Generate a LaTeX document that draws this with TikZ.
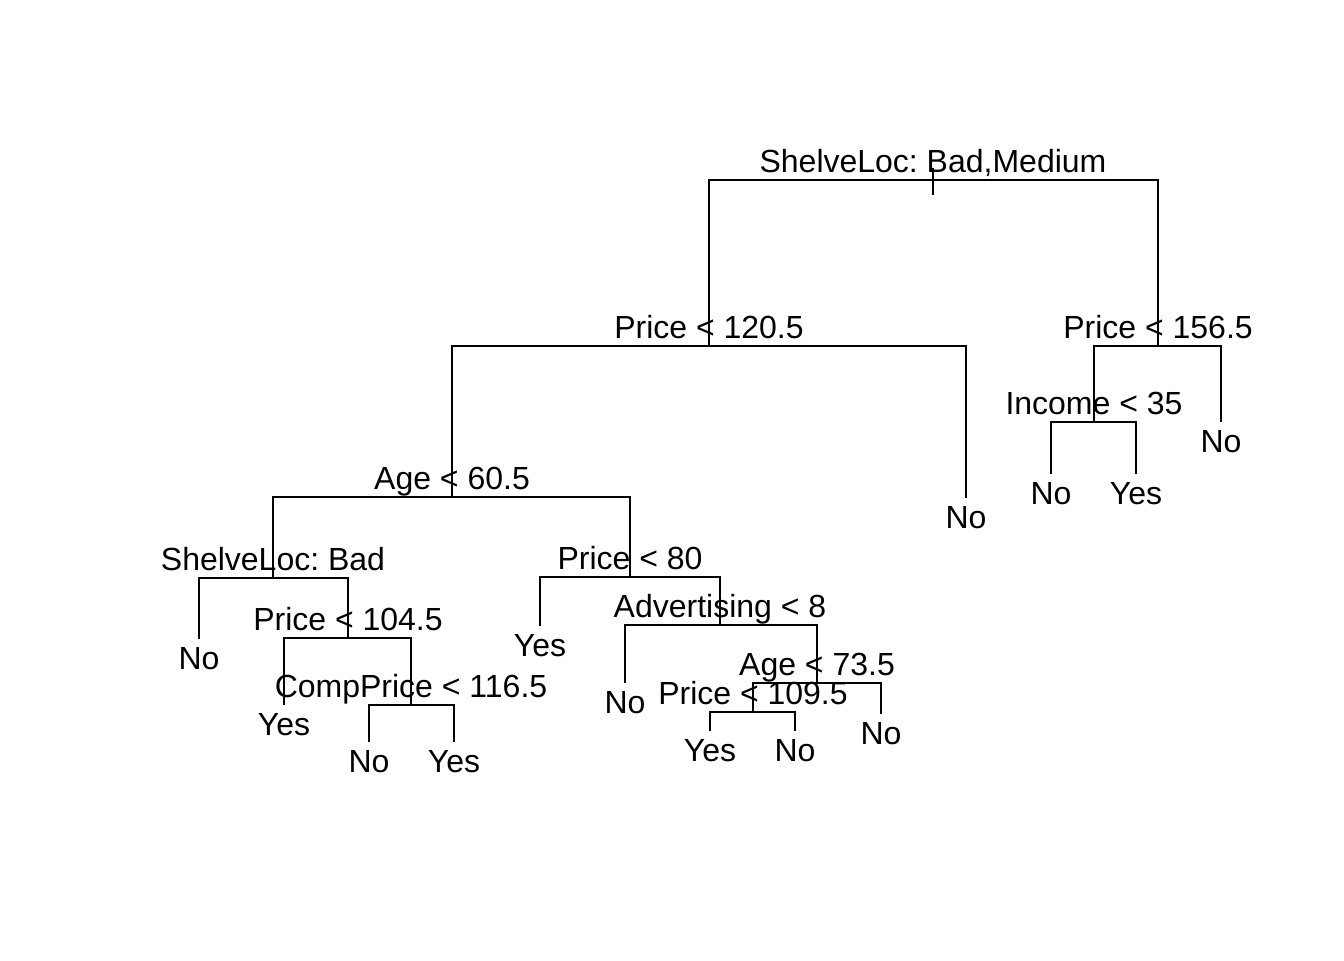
\documentclass[tikz,border=0pt]{standalone}
\usepackage{fontspec}
\setmainfont{Liberation Sans}
\frenchspacing

\tikzset{splitlab/.style = {anchor = base,
                            inner sep = 0pt,
                            yshift = 2.8pt,
                            font = \fontsize{12}{14}\selectfont},
         leaflab/.style = {anchor = base,
                           inner sep = 0pt,
                           yshift = -11.4pt,
                           font = \fontsize{12}{14}\selectfont},
         branch/.style = {color = black,
                          line width = 0.75pt}}

\begin{document}
\begin{tikzpicture}[x = 0.375pt, y = -0.375pt]
		\useasboundingbox (0,0) rectangle (1344,960);
		% split points
		\coordinate (root) at (933,180);
		\coordinate (p1205) at (709,346);
		\coordinate (p1565) at (1158,346);
		\coordinate (inc35) at (1094,422);
		\coordinate (age605) at (452,497);
		\coordinate (shbad) at (273,578);
		\coordinate (p1045) at (348,638);
		\coordinate (cp1165) at (411,705);
		\coordinate (p80) at (630,577);
		\coordinate (adv8) at (720,625);
		\coordinate (age735) at (817,683);
		\coordinate (p1095) at (753,712);
		% leaves
		\coordinate (l1) at (1051,474);
		\coordinate (l2) at (1136,474);
		\coordinate (l3) at (1221,422);
		\coordinate (l4) at (966,498);
		\coordinate (l5) at (199,639);
		\coordinate (l6) at (284,705);
		\coordinate (l7) at (369,742);
		\coordinate (l8) at (454,742);
		\coordinate (l9) at (540,626);
		\coordinate (l10) at (625,683);
		\coordinate (l11) at (710,731);
		\coordinate (l12) at (795,731);
		\coordinate (l13) at (881,714);
		\coordinate (ticktop) at (933,168);
		\coordinate (tickbot) at (933,195);
		% branches
		\draw[branch] (ticktop) -- (tickbot);
		\draw[branch] (p1205) |- (root) -| (p1565);
		\draw[branch] (age605) |- (p1205) -| (l4);
		\draw[branch] (inc35) |- (p1565) -| (l3);
		\draw[branch] (l1) |- (inc35) -| (l2);
		\draw[branch] (shbad) |- (age605) -| (p80);
		\draw[branch] (l5) |- (shbad) -| (p1045);
		\draw[branch] (l6) |- (p1045) -| (cp1165);
		\draw[branch] (l7) |- (cp1165) -| (l8);
		\draw[branch] (l9) |- (p80) -| (adv8);
		\draw[branch] (l10) |- (adv8) -| (age735);
		\draw[branch] (p1095) |- (age735) -| (l13);
		\draw[branch] (l11) |- (p1095) -| (l12);
		% split labels
		\node[splitlab] (troot) at (root) {ShelveLoc: Bad,Medium};
		\node[splitlab] (tp1205) at (p1205) {Price < 120.5};
		\node[splitlab] (tp1565) at (p1565) {Price < 156.5};
		\node[splitlab] (tinc35) at (inc35) {Income < 35};
		\node[splitlab] (tage605) at (age605) {Age < 60.5};
		\node[splitlab] (tshbad) at (shbad) {ShelveLoc: Bad};
		\node[splitlab] (tp1045) at (p1045) {Price < 104.5};
		\node[splitlab] (tcp1165) at (cp1165) {CompPrice < 116.5};
		\node[splitlab] (tp80) at (p80) {Price < 80};
		\node[splitlab] (tadv8) at (adv8) {Advertising < 8};
		\node[splitlab] (tage735) at (age735) {Age < 73.5};
		\node[splitlab] (tp1095) at (p1095) {Price < 109.5};
		% leaf labels
		\node[leaflab] (tl1) at (l1) {No};
		\node[leaflab] (tl2) at (l2) {Yes};
		\node[leaflab] (tl3) at (l3) {No};
		\node[leaflab] (tl4) at (l4) {No};
		\node[leaflab] (tl5) at (l5) {No};
		\node[leaflab] (tl6) at (l6) {Yes};
		\node[leaflab] (tl7) at (l7) {No};
		\node[leaflab] (tl8) at (l8) {Yes};
		\node[leaflab] (tl9) at (l9) {Yes};
		\node[leaflab] (tl10) at (l10) {No};
		\node[leaflab] (tl11) at (l11) {Yes};
		\node[leaflab] (tl12) at (l12) {No};
		\node[leaflab] (tl13) at (l13) {No};
	\end{tikzpicture}
\end{document}
